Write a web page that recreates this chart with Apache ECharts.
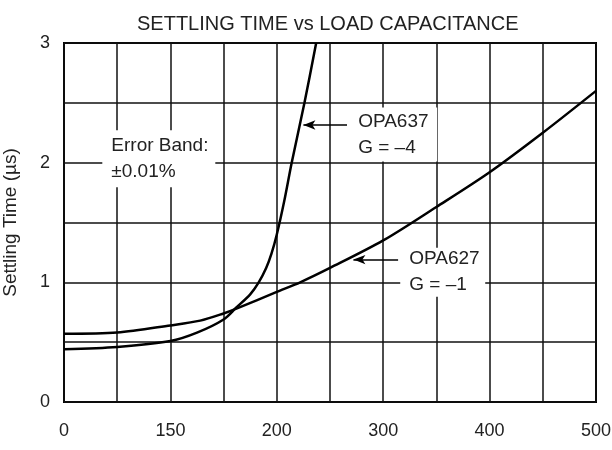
<!DOCTYPE html>
<html>
<head>
<meta charset="utf-8">
<script src="https://cdn.jsdelivr.net/npm/echarts@6/dist/echarts.min.js"></script>
<style>
  html, body { margin: 0; padding: 0; background: #fff; }
  #grafico { width: 612px; height: 450px; }
</style>
</head>
<body>
<div id="grafico"></div>
<script>
// load capacitance (pF) and settling time (us)
var opa637X = [0, 50, 100, 125, 150, 162, 175, 183, 190, 195, 200, 207, 214, 226, 237];
var opa637Y = [0.44, 0.46, 0.51, 0.58, 0.69, 0.79, 0.90, 1.0, 1.12, 1.24, 1.40, 1.68, 2.0, 2.5, 3.0];

var opa627X = [0, 50, 100, 128, 150, 162, 200, 222, 250, 300, 350, 400, 450, 500];
var opa627Y = [0.57, 0.58, 0.64, 0.68, 0.74, 0.78, 0.92, 1.0, 1.12, 1.35, 1.63, 1.92, 2.25, 2.6];

// x tick labels as printed on the original (the 100 tick reads "150")
var xTickValues = [0, 100, 200, 300, 400, 500];
var xTickLabels = ['0', '150', '200', '300', '400', '500'];
var yTickValues = [0, 1, 2, 3];

var fuente = '"Liberation Sans", Arial, Helvetica, sans-serif';

function pares(xs, ys) {
    return xs.map(function (x, i) { return [x, ys[i]]; });
}

var myChart = echarts.init(document.getElementById('grafico'));

var option = {
    animation: false,
    title: {
        text: 'SETTLING TIME vs LOAD CAPACITANCE',
        left: 132,
        top: 9,
        textStyle: { fontFamily: fuente, fontSize: 20, fontWeight: 'normal', color: '#222' }
    },
    grid: {
        left: 64, right: 16, top: 43, bottom: 48,
        outerBoundsMode: 'none',
        containLabel: false,
        show: true, borderColor: '#000', borderWidth: 2, backgroundColor: 'transparent'
    },
    xAxis: {
        type: 'value',
        min: 0, max: 500, interval: 50,
        axisLine: { show: false },
        axisTick: { show: false },
        splitLine: { show: true, lineStyle: { color: '#111', width: 1.5 } },
        axisLabel: {
            margin: 20,
            fontFamily: fuente, fontSize: 18, color: '#222',
            formatter: function (v) {
                var i = xTickValues.indexOf(v);
                return i >= 0 ? xTickLabels[i] : '';
            }
        }
    },
    yAxis: {
        type: 'value',
        min: 0, max: 3, interval: 0.5,
        name: 'Settling Time (µs)',
        nameLocation: 'middle',
        nameGap: 44,
        nameTextStyle: { fontFamily: fuente, fontSize: 19, color: '#222' },
        axisLine: { show: false },
        axisTick: { show: false },
        splitLine: { show: true, lineStyle: { color: '#111', width: 1.5 } },
        axisLabel: {
            margin: 14,
            fontFamily: fuente, fontSize: 18, color: '#222',
            formatter: function (v) {
                return yTickValues.indexOf(v) >= 0 ? String(v) : '';
            }
        }
    },
    series: [{
        name: 'OPA637',
        type: 'line',
        data: pares(opa637X, opa637Y),
        smooth: 0.3,
        showSymbol: false,
        lineStyle: { color: '#000', width: 2.5 },
        z: 5,
        markLine: {
            silent: true,
            symbol: ['arrow', 'none'],
            symbolSize: [7, 12],
            lineStyle: { color: '#000', width: 1.5, type: 'solid' },
            label: { show: false },
            data: [[{ coord: [225, 2.315] }, { coord: [266, 2.315] }]]
        }
    }, {
        name: 'OPA627',
        type: 'line',
        data: pares(opa627X, opa627Y),
        smooth: 0.3,
        showSymbol: false,
        lineStyle: { color: '#000', width: 2.5 },
        z: 5,
        markLine: {
            silent: true,
            symbol: ['arrow', 'none'],
            symbolSize: [7, 12],
            lineStyle: { color: '#000', width: 1.5, type: 'solid' },
            label: { show: false },
            data: [[{ coord: [272, 1.19] }, { coord: [314, 1.19] }]]
        }
    }]
};

myChart.setOption(option);

// text boxes placed in data units, with white backing that cuts the grid
function caja(xy, lineas, ancho, alto) {
    var p = myChart.convertToPixel({ gridIndex: 0 }, xy);
    return {
        type: 'group',
        x: p[0], y: p[1],
        z: 3,
        children: [{
            type: 'rect',
            shape: { x: 0, y: 0, width: ancho, height: alto },
            style: { fill: '#fff' }
        }, {
            type: 'text',
            x: 9, y: alto / 2,
            style: {
                text: lineas.join('\n'),
                font: '19px ' + fuente,
                fill: '#222',
                lineHeight: 26,
                verticalAlign: 'middle'
            }
        }]
    };
}

myChart.setOption({
    graphic: [
        caja([36, 2.27], ['Error Band:', '±0.01%'], 113, 57),
        caja([268, 2.46], ['OPA637', 'G = –4'], 88, 54),
        caja([316, 1.29], ['OPA627', 'G = –1'], 85, 49)
    ]
});
</script>
</body>
</html>
